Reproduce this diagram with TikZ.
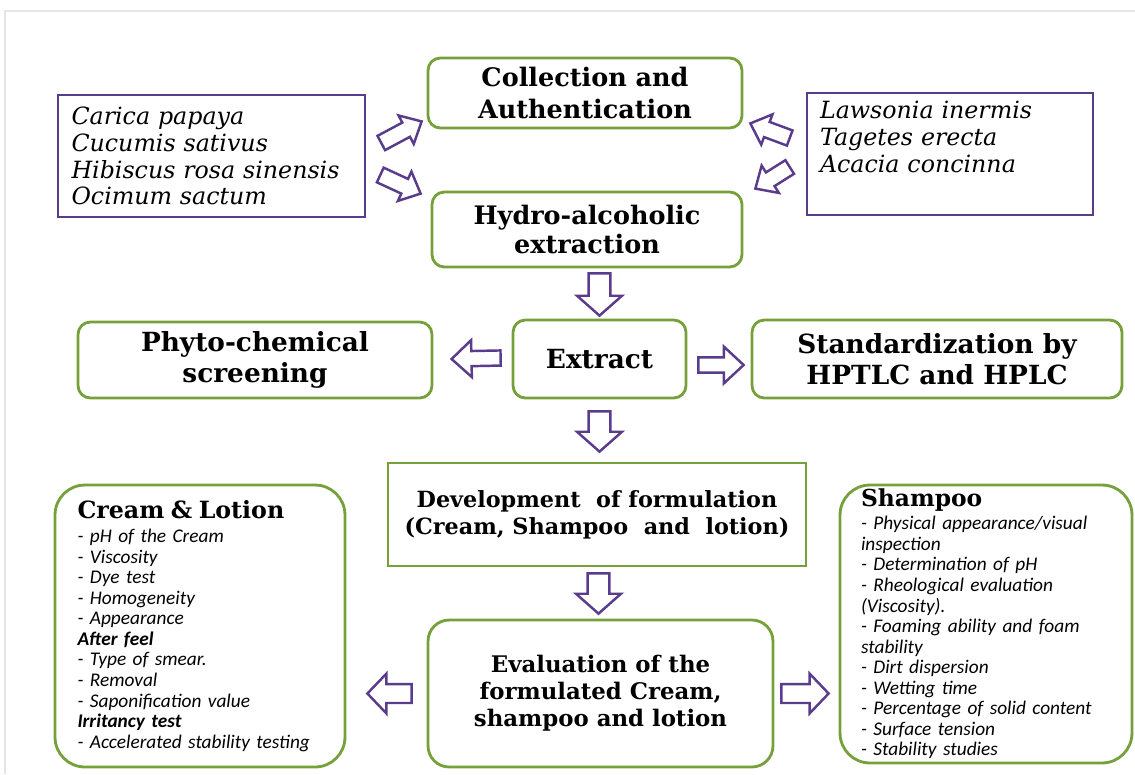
\documentclass[tikz,border=0pt]{standalone}
\usepackage{fontspec}
\usetikzlibrary{calc}
\newfontfamily\bookfont{DejaVu Serif}
\newfontfamily\calfont{Carlito}
\definecolor{boxgreen}{RGB}{118,160,58}
\definecolor{arrpurple}{RGB}{90,60,140}

\begin{document}
\begin{tikzpicture}[
		x=0.02cm, y=-0.02cm,
		every node/.style={inner sep=0pt},
		stage/.style={draw=boxgreen, line width=1.6pt, rounded corners=7pt, align=center,
			font=\bookfont\bfseries\fontsize{13}{16}\selectfont},
		plants/.style={draw=arrpurple, line width=1.5pt, align=left,
			font=\bookfont\itshape\fontsize{13.5}{15.3}\selectfont},
		tests/.style={draw=boxgreen, line width=1.6pt, rounded corners=17pt, align=left,
			font=\calfont\itshape\fontsize{11}{11.7}\selectfont},
		bigarrow/.style n args={3}{draw=arrpurple, fill=white, line width=1.4pt, line join=miter,
			to path={let \p1=(\tikztostart), \p2=(\tikztotarget),
				\n1={atan2(\y2-\y1,\x2-\x1)} in
				($(\p1)+(\n1+90:#1)$) -- ($(\p2)+(\n1+180:#3)+(\n1+90:#1)$)
				-- ($(\p2)+(\n1+180:#3)+(\n1+90:#2)$) -- (\p2)
				-- ($(\p2)+(\n1+180:#3)+(\n1-90:#2)$) -- ($(\p2)+(\n1+180:#3)+(\n1-90:#1)$)
				-- ($(\p1)+(\n1-90:#1)$) -- cycle}},
		downarrow/.style={bigarrow={6.2pt}{12.8pt}{11.3pt}},
		sidearrow/.style={bigarrow={4.3pt}{10.5pt}{11.3pt}},
		evalarrow/.style={bigarrow={5.4pt}{11.3pt}{10.8pt}},
		tiltarrow/.style={bigarrow={4.6pt}{9.2pt}{10pt}}
	]
  \useasboundingbox (0,0) rectangle (1135,774);
  \draw [black!10, line width=0.6pt] (5,774) |- (1135,11);

  \node (plantL) [plants, minimum width=6.14cm, minimum height=2.44cm, text width=5.6cm] at (211.5,156)
    {Carica papaya\\ Cucumis sativus\\ Hibiscus rosa sinensis\\ Ocimum sactum};
  \node (plantR) [plants, minimum width=5.72cm, minimum height=2.44cm, text width=5.2cm] at (950,154)
    {Lawsonia inermis\\ Tagetes erecta\\ Acacia concinna\\ \strut};

  \node (coll) [stage, minimum width=6.28cm, minimum height=1.4cm,
    font=\bookfont\bfseries\fontsize{14.5}{18}\selectfont] at (585,93) {Collection and\\ Authentication};
  \node (hydro) [stage, minimum width=6.2cm, minimum height=1.5cm,
    font=\bookfont\bfseries\fontsize{14.5}{17}\selectfont] at (587,229.5) {Hydro-alcoholic\\ extraction};
  \node (extract) [stage, minimum width=3.46cm, minimum height=1.56cm,
    font=\bookfont\bfseries\fontsize{15}{17}\selectfont] at (599.5,359) {Extract};
  \node (phyto) [stage, minimum width=7.08cm, minimum height=1.52cm,
    font=\bookfont\bfseries\fontsize{15}{17.5}\selectfont] at (255,360) {Phyto-chemical\\ screening};
  \node (standard) [stage, minimum width=7.4cm, minimum height=1.56cm,
    font=\bookfont\bfseries\fontsize{15}{17.5}\selectfont] at (937,359) {Standardization by\\ HPTLC and HPLC};
  \node (devel) [stage, sharp corners, minimum width=8.36cm, minimum height=2.06cm,
    font=\bookfont\bfseries\fontsize{12.7}{15.3}\selectfont] at (597,514.5)
    {Development\ \ of formulation\\ (Cream, Shampoo\ \ and\ \ lotion)};
  \node (eval) [stage, rounded corners=12pt, minimum width=6.9cm, minimum height=2.94cm,
    font=\bookfont\bfseries\fontsize{13}{15.3}\selectfont] at (600.5,693.5)
    {Evaluation of the\\ formulated Cream,\\ shampoo and lotion};

  \node (cream) [tests, minimum width=5.8cm, minimum height=5.64cm, text width=4.9cm] at (200,626)
    {{\bookfont\bfseries\upshape\fontsize{13.5}{14}\selectfont Cream \& Lotion}\\[2pt]
     - pH of the Cream\\ - Viscosity\\ - Dye test\\ - Homogeneity\\ - Appearance\\
     \textbf{After feel}\\ - Type of smear.\\ - Removal\\ - Saponification value\\
     \textbf{Irritancy test}\\ - Accelerated stability testing};
  \node (shampoo) [tests, minimum width=5.84cm, minimum height=5.56cm, text width=5.0cm] at (986,624)
    {{\bookfont\bfseries\upshape\fontsize{13.3}{14}\selectfont Shampoo}\\[1.5pt]
     - Physical appearance/visual\\ inspection\\ - Determination of pH\\
     - Rheological evaluation\\ (Viscosity).\\ - Foaming ability and foam\\ stability\\
     - Dirt dispersion\\ - Wetting time\\ - Percentage of solid content\\
     - Surface tension\\ - Stability studies};

  \draw [tiltarrow] ($(plantL.east)+(15,-13)$) to ($(coll.south west)+(-5,-8)$);
  \draw [tiltarrow] ($(plantL.east)+(14,19)$) to ($(hydro.north west)+(-10,3)$);
  \draw [tiltarrow] ($(plantR.west)+(-16,-16)$) to ($(coll.south east)+(7,-6)$);
  \draw [tiltarrow] ($(plantR.west)+(-16,13)$) to ($(hydro.north east)+(12,-2)$);
  \draw [downarrow] ($(hydro.south -| extract.north)+(0,5)$) to ($(extract.north)+(0,-3)$);
  \draw [sidearrow] ($(extract.west)+(-11,-1)$) to ($(phyto.east -| extract.west)+(-60,-1)$);
  \draw [sidearrow] ($(extract.east)+(11,6)$) to ($(standard.west)+(-7,6)$);
  \draw [downarrow] ($(extract.south)+(0,12)$) to ($(devel.north -| extract.south)+(0,-10)$);
  \draw [downarrow] ($(devel.south)+(1.5,6)$) to ($(eval.north -| devel.south)+(1.5,-5)$);
  \draw [evalarrow] ($(eval.west)+(-15,0)$) to ($(cream.east |- eval.west)+(21,0)$);
  \draw [evalarrow] ($(eval.east)+(7,0)$) to ($(shampoo.west |- eval.east)+(-10,0)$);
\end{tikzpicture}
\end{document}
